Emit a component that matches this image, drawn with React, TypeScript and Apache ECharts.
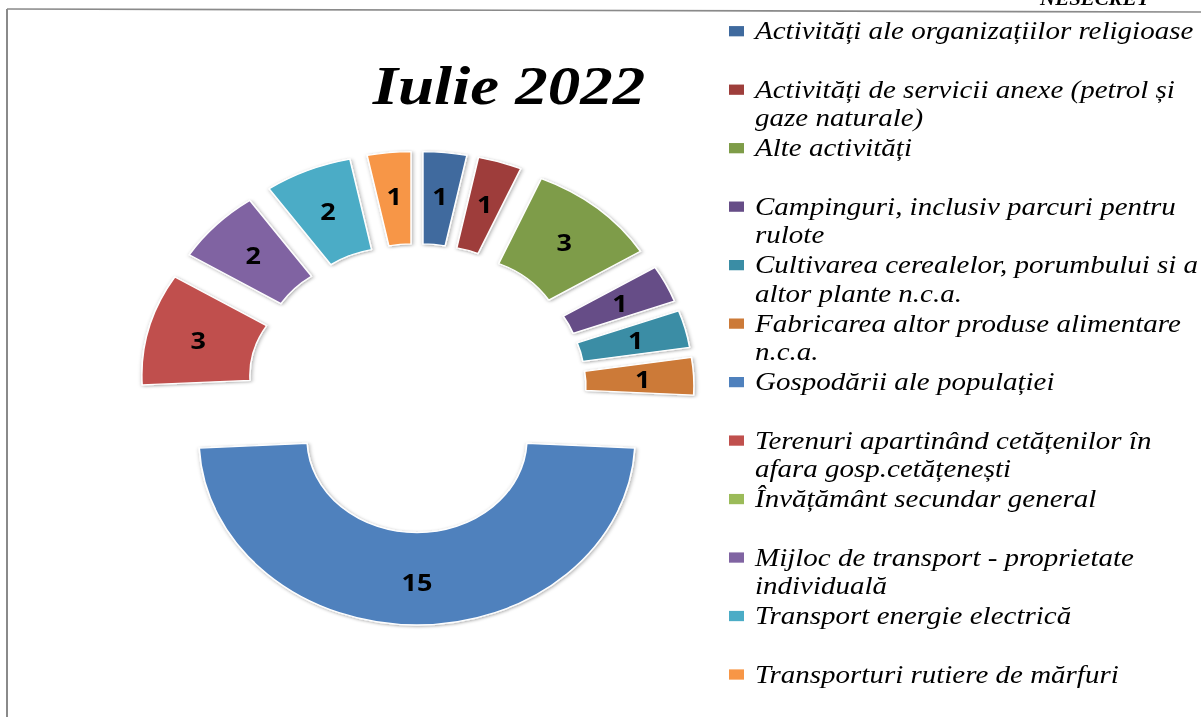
import React, { useEffect, useRef } from 'react';
import * as echarts from 'echarts';

const categories: string[] = [
  'Activități ale organizațiilor religioase',
  'Activități de servicii anexe (petrol și gaze naturale)',
  'Alte activități',
  'Campinguri, inclusiv parcuri pentru rulote',
  'Cultivarea cerealelor, porumbului si a altor plante n.c.a.',
  'Fabricarea altor produse alimentare n.c.a.',
  'Gospodării ale populației',
  'Terenuri apartinând cetățenilor în afara gosp.cetățenești',
  'Învățământ secundar general',
  'Mijloc de transport - proprietate individuală',
  'Transport energie electrică',
  'Transporturi rutiere de mărfuri',
];
const values: number[] = [1, 1, 3, 1, 1, 1, 15, 3, 0, 2, 2, 1];
const colors: string[] = [
  '#3F6A9E', '#9E3E3B', '#7E9C48', '#664D87', '#3A8DA5', '#CC7A38',
  '#4F81BD', '#C0504D', '#9BBB59', '#8064A2', '#4BACC6', '#F79646',
];
// number of words on the first legend line (0 = single line)
const firstLineWords: number[] = [0, 6, 0, 4, 5, 4, 0, 4, 0, 5, 0, 0];
const chartTitle = 'Iulie 2022';
const headerText = 'NESECRET';

const W = 1201;
const SY = 0.855;
const H = 717 / SY;

const splitName = (name: string, n: number): [string, string] => {
  const w = name.split(' ');
  if (!n || n >= w.length) return [name, ''];
  return [w.slice(0, n).join(' '), w.slice(n).join(' ')];
};

const legendFont = {
  fontFamily: 'Liberation Serif',
  fontStyle: 'italic' as const,
  fontSize: 29,
};

export default function App() {
  const ref = useRef<HTMLDivElement>(null);

  useEffect(() => {
    if (!ref.current) return;
    const chart = echarts.init(ref.current, null, { renderer: 'svg', width: W, height: H });
    const lines = categories.map((c, i) => splitName(c, firstLineWords[i]));

    const legendTop = 22;
    const pitch = 68.4;
    const firstCenter = legendTop + 14.5;

    const secondLines: any[] = [];
    lines.forEach((l, i) => {
      if (l[1]) {
        secondLines.push({
          type: 'text',
          x: 755,
          y: firstCenter + i * pitch + 33,
          silent: true,
          style: {
            text: l[1],
            ...legendFont,
            fill: '#000',
            align: 'left',
            verticalAlign: 'middle',
          },
        });
      }
    });

    const option: any = {
      animation: false,
      backgroundColor: '#ffffff',
      title: {
        text: chartTitle,
        left: 509,
        top: 65,
        textAlign: 'center',
        padding: 0,
        textStyle: {
          fontFamily: 'Liberation Serif',
          fontStyle: 'italic',
          fontWeight: 'bold',
          fontSize: 65,
          lineHeight: 70,
          color: '#000',
        },
      },
      legend: {
        orient: 'vertical',
        left: 729,
        top: legendTop,
        padding: 0,
        itemGap: pitch - 29,
        itemWidth: 15,
        itemHeight: 12,
        icon: 'rect',
        selectedMode: false,
        data: categories,
        formatter: (name: string) => lines[categories.indexOf(name)][0],
        textStyle: { ...legendFont, color: '#000', padding: [0, 0, 0, 6] },
        itemStyle: {
          borderWidth: 0,
          shadowBlur: 0,
          shadowOffsetX: 0,
          shadowOffsetY: 0,
          shadowColor: 'rgba(0,0,0,0)',
        },
      },
      series: [
        {
          type: 'pie',
          center: [417, 454],
          radius: [110, 218],
          startAngle: 90,
          clockwise: true,
          selectedMode: 'multiple',
          selectedOffset: 59,
          avoidLabelOverlap: false,
          emphasis: { disabled: true },
          label: {
            show: true,
            position: 'inside',
            formatter: '{c}',
            fontFamily: 'Open Sans',
            fontWeight: 'bold',
            fontSize: 27,
            color: '#000',
          },
          labelLine: { show: false },
          itemStyle: {
            borderColor: '#ffffff',
            borderWidth: 1.5,
            shadowBlur: 4,
            shadowOffsetX: 1,
            shadowOffsetY: 1,
            shadowColor: 'rgba(0,0,0,0.35)',
          },
          select: { itemStyle: { borderColor: '#ffffff', borderWidth: 1.5 } },
          data: categories.map((name, i) => ({
            name,
            value: values[i],
            selected: true,
            itemStyle:
              values[i] === 0
                ? {
                    color: colors[i],
                    borderWidth: 0,
                    borderColor: 'rgba(0,0,0,0)',
                    shadowBlur: 0,
                    shadowOffsetX: 0,
                    shadowOffsetY: 0,
                    shadowColor: 'rgba(0,0,0,0)',
                  }
                : { color: colors[i] },
            select:
              values[i] === 0
                ? { itemStyle: { borderWidth: 0, borderColor: 'rgba(0,0,0,0)' } }
                : undefined,
            label: values[i] === 0 ? { show: false } : undefined,
          })),
        },
      ],
      graphic: [
        {
          type: 'line',
          silent: true,
          shape: { x1: 7, y1: 9 / SY, x2: W, y2: 12 / SY },
          style: { stroke: '#8a8a8a', lineWidth: 2 },
        },
        {
          type: 'line',
          silent: true,
          shape: { x1: 7, y1: 9 / SY, x2: 7, y2: H },
          style: { stroke: '#8a8a8a', lineWidth: 2 },
        },
        {
          type: 'text',
          x: 1040,
          y: -1.3,
          silent: true,
          style: {
            text: headerText,
            fontFamily: 'Liberation Serif',
            fontStyle: 'italic',
            fontWeight: 'bold',
            fontSize: 21,
            fill: '#000',
            align: 'left',
            verticalAlign: 'middle',
          },
        },
        ...secondLines,
      ],
    };

    chart.setOption(option);
    return () => chart.dispose();
  }, []);

  return (
    <div
      style={{
        position: 'fixed',
        left: 0,
        top: 0,
        width: W,
        height: 717,
        overflow: 'hidden',
        background: '#fff',
      }}
    >
      <div
        ref={ref}
        style={{ width: W, height: H, transform: `scaleY(${SY})`, transformOrigin: '0 0' }}
      />
    </div>
  );
}
